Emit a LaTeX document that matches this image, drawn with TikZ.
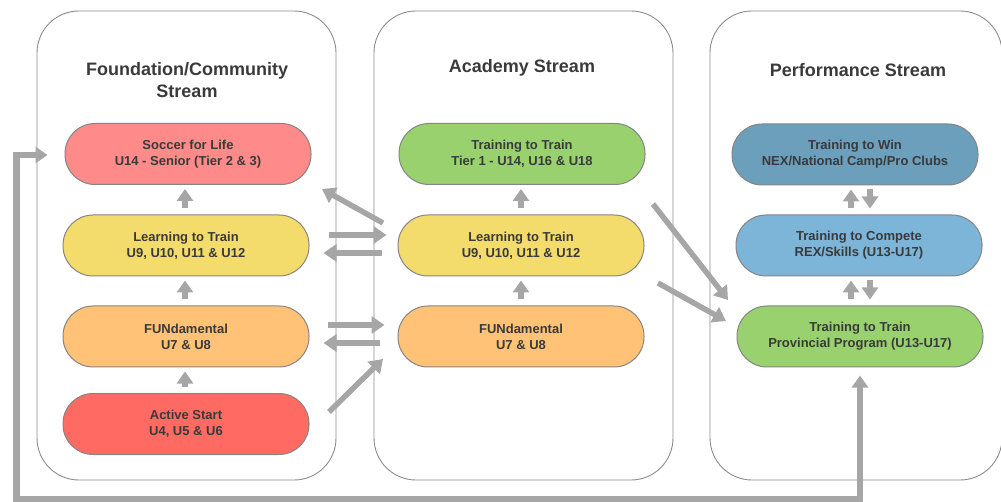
\documentclass[tikz,border=0pt]{standalone}
\usepackage{fontspec}
\setmainfont{Liberation Sans}
\usetikzlibrary{arrows.meta,calc}
\definecolor{arr}{HTML}{A6A6A6}
\definecolor{boxline}{HTML}{8C8C8C}
\definecolor{pillline}{HTML}{858585}
\definecolor{txt}{HTML}{3A3A3A}
\definecolor{cSoccer}{HTML}{FF8A8A}
\definecolor{cLearn}{HTML}{F4DC6C}
\definecolor{cFun}{HTML}{FFC276}
\definecolor{cActive}{HTML}{FF6B63}
\definecolor{cGreen}{HTML}{99D16F}
\definecolor{cWin}{HTML}{6C9FBB}
\definecolor{cCompete}{HTML}{7CB5D8}
\begin{document}
\begin{tikzpicture}[x=1pt,y=-1pt,
  pill/.style={draw=pillline, line width=1pt, rounded corners=30pt, minimum width=246pt, minimum height=61pt, inner sep=0pt, align=center, font=\bfseries\fontsize{13}{16}\selectfont, text=txt},
  container/.style={draw=boxline, line width=0.9pt, rounded corners=42pt, minimum height=469pt, inner sep=0pt},
  title/.style={font=\bfseries\fontsize{18}{22}\selectfont, text=txt, align=center},
  garrow/.style={draw=arr, line width=5.5pt, -{Triangle[width=17pt,length=13pt]}},
  varrow/.style={draw=arr, line width=6pt, -{Triangle[width=16pt,length=12pt]}},
  looparrow/.style={draw=arr, line width=6.5pt, line join=miter, {Triangle[width=16pt,length=12pt]}-{Triangle[width=16pt,length=12pt]}},
]
\useasboundingbox (0,0) rectangle (1001,502);
% containers
\node[container, minimum width=299pt] (C1) at (186.5,245.5) {};
\node[container, minimum width=299pt] (C2) at (523.5,245.5) {};
\node[container, minimum width=292pt] (C3) at (856,245.5) {};
% titles
\node[title] (T1) at (187,80) {Foundation/Community\\Stream};
\node[title] (T2) at (522,68) {Academy Stream};
\node[title] (T3) at (858,70) {Performance Stream};
% left column
\node[pill, fill=cSoccer] (L1) at (188,154) {Soccer for Life\\U14 - Senior (Tier 2 \& 3)};
\node[pill, fill=cLearn] (L2) at (186,245.5) {Learning to Train\\U9, U10, U11 \& U12};
\node[pill, fill=cFun] (L3) at (186,336.5) {FUNdamental\\U7 \& U8};
\node[pill, fill=cActive] (L4) at (186,424) {Active Start\\U4, U5 \& U6};
% middle column
\node[pill, fill=cGreen] (M1) at (522,154) {Training to Train\\Tier 1 - U14, U16 \& U18};
\node[pill, fill=cLearn] (M2) at (521,245.5) {Learning to Train\\U9, U10, U11 \& U12};
\node[pill, fill=cFun] (M3) at (521,336.5) {FUNdamental\\U7 \& U8};
% right column
\node[pill, fill=cWin] (R1) at (855,154.5) {Training to Win\\NEX/National Camp/Pro Clubs};
\node[pill, fill=cCompete] (R2) at (859,245.5) {Training to Compete\\REX/Skills (U13-U17)};
\node[pill, fill=cGreen] (R3) at (860,336.5) {Training to Train\\Provincial Program (U13-U17)};
% vertical arrows, left column
\draw[varrow, shorten <=6pt, shorten >=4pt] ([xshift=-1pt]L2.north) -- ([xshift=-1pt]L2.north |- L1.south);
\draw[varrow, shorten <=6pt, shorten >=4pt] ([xshift=-1pt]L3.north) -- ([xshift=-1pt]L3.north |- L2.south);
\draw[varrow, shorten <=6pt, shorten >=4pt] ([xshift=-1pt]L4.north) -- ([xshift=-1pt]L4.north |- L3.south);
% vertical arrows, middle column
\draw[varrow, shorten <=6pt, shorten >=4pt] (M2.north) -- (M2.north |- M1.south);
\draw[varrow, shorten <=6pt, shorten >=4pt] (M3.north) -- (M3.north |- M2.south);
% right column pairs
\draw[varrow, shorten <=6pt, shorten >=4pt] ([xshift=-8pt]R2.north) -- ([xshift=-8pt]R2.north |- R1.south);
\draw[varrow, shorten <=4pt, shorten >=6pt] ([xshift=11pt]R2.north |- R1.south) -- ([xshift=11pt]R2.north);
\draw[varrow, shorten <=6pt, shorten >=4pt] ([xshift=-9pt]R3.north) -- ([xshift=-9pt]R3.north |- R2.south);
\draw[varrow, shorten <=4pt, shorten >=6pt] ([xshift=10pt]R3.north |- R2.south) -- ([xshift=10pt]R3.north);
% between left and middle
\coordinate (d1s) at (383,223);
\coordinate (d1e) at (322,189);
\draw[garrow] (d1s) -- (d1e);
\coordinate (h1s) at ($(L2.east)+(19,-10.5)$);
\coordinate (h1e) at ($(M2.west)+(-11,-10.5)$);
\draw[garrow] (h1s) -- (h1e);
\coordinate (h2s) at ($(M2.west)+(-16,7.5)$);
\coordinate (h2e) at ($(L2.east)+(14,7.5)$);
\draw[garrow] (h2s) -- (h2e);
\coordinate (h3s) at ($(L3.east)+(18,-11.5)$);
\coordinate (h3e) at ($(M3.west)+(-13,-11.5)$);
\draw[garrow] (h3s) -- (h3e);
\coordinate (h4s) at ($(M3.west)+(-18,6.5)$);
\coordinate (h4e) at ($(L3.east)+(14,6.5)$);
\draw[garrow] (h4s) -- (h4e);
\coordinate (d2s) at (329,412);
\coordinate (d2e) at (383,359);
\draw[garrow] (d2s) -- (d2e);
% between middle and right
\coordinate (d3s) at (653,204);
\coordinate (d3e) at (728,300);
\draw[garrow] (d3s) -- (d3e);
\coordinate (d4s) at (658,283);
\coordinate (d4e) at (726,321);
\draw[garrow] (d4s) -- (d4e);
% loop from bottom
\coordinate (lpA) at ($(R3.south)+(0,8)$);
\coordinate (lpB) at ($(L1.west)+(-17,1)$);
\draw[looparrow] (lpA) -- (lpA |- 0,499.5) -- (16.5,499.5) -- (16.5,0 |- lpB) -- (lpB);
\end{tikzpicture}
\end{document}
